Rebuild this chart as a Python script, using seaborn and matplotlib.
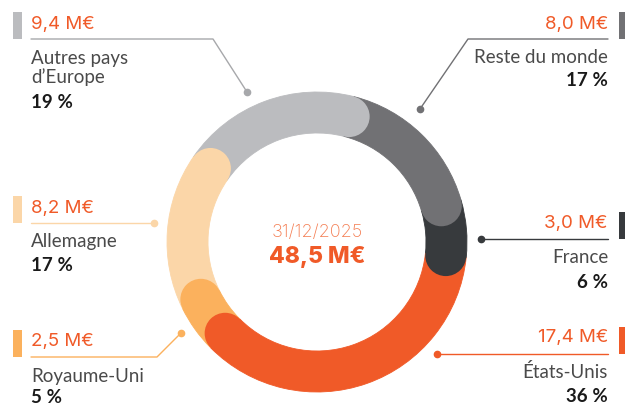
import numpy as np
import matplotlib.pyplot as plt
import seaborn as sns
from matplotlib.patches import Circle

# data
regions = ["Autres pays\nd\u2019Europe", "Reste du monde", "France", "\u00c9tats-Unis", "Royaume-Uni", "Allemagne"]
amounts = [9.4, 8.0, 3.0, 17.4, 2.5, 8.2]
amount_labels = ["9,4 M\u20ac", "8,0 M\u20ac", "3,0 M\u20ac", "17,4 M\u20ac", "2,5 M\u20ac", "8,2 M\u20ac"]
percents = ["19\u202f%", "17\u202f%", "6\u202f%", "36\u202f%", "5\u202f%", "17\u202f%"]
colors = ["#BBBCBF", "#717174", "#373A3D", "#F05A28", "#FBB15D", "#FBD6A8"]
total_date = "31/12/2025"
total_label = "48,5 M\u20ac"

orange = "#F05A28"

sns.set_style("white")
plt.rcParams['font.family'] = ['Lato', 'DejaVu Sans']

fig = plt.figure(figsize=(6.25, 4.05), dpi=100)
ax = fig.add_axes([0, 0, 1, 1])

cx, cy = 317, 242
r_out, width = 150, 41
r_mid = r_out - width / 2
start = -145.4  # data angle (y axis inverted), i.e. ~55 deg left of top

wedges, _ = ax.pie(amounts, colors=colors, startangle=start, counterclock=True,
                   center=(cx, cy), radius=r_out,
                   wedgeprops=dict(width=width, linewidth=0.6))
for w, c in zip(wedges, colors):
    w.set_edgecolor(c)

# rounded caps at the end of each segment
ends = start + np.cumsum(amounts) / sum(amounts) * 360
for ang, c in zip(ends, colors):
    a = np.deg2rad(ang)
    ax.add_patch(Circle((cx + r_mid * np.cos(a), cy + r_mid * np.sin(a)),
                        width / 2, color=c, zorder=3, lw=0))

ax.set_xlim(0, 625)
ax.set_ylim(405, 0)
ax.set_aspect('equal')
ax.axis('off')

# center text
ax.text(cx, 237, total_date, ha='center', va='baseline', color="#F47A4E",
        fontsize=13, fontweight='light', family=['Inter', 'DejaVu Sans'])
ax.text(cx, 263, total_label, ha='center', va='baseline', color=orange,
        fontsize=16.5, fontweight='heavy', family=['Inter', 'DejaVu Sans'])

# label layout: (side, value baseline, line y, leader path, name baseline, pct baseline)
layout = [
    ("left", 29, 39, [(31, 39), (213, 39), (247, 92)], 64, 108),
    ("right", 29, 39, [(608, 39), (468, 39), (420, 109)], 63, 86),
    ("right", 228, 239, [(608, 239), (481, 239)], 263, 288),
    ("right", 342, 354, [(608, 354), (437, 354)], 378, 402),
    ("left", 346, 357, [(31, 357), (157, 357), (181, 333)], 382, 403),
    ("left", 213, 223, [(31, 223), (154, 223)], 247, 271),
]
line_colors = ["#A7A8AB", "#717174", "#373A3D", "#F05A28", "#FBB15D", "#FBD6A8"]

for i, (side, vy, ly, path, ny, py) in enumerate(layout):
    x = 31 if side == "left" else 608
    ha = "left" if side == "left" else "right"
    bx = 13 if side == "left" else 619
    ax.add_patch(plt.Rectangle((bx, ly - 27), 9, 27, color=colors[i], lw=0))
    ax.text(x, vy, amount_labels[i], ha=ha, va='baseline', color=orange,
            fontsize=13.5, family=['Inter', 'DejaVu Sans'])
    xs, ys = zip(*path)
    ax.plot(xs, ys, color=line_colors[i], lw=1)
    ax.plot(xs[-1], ys[-1], 'o', color=line_colors[i], ms=4.5)
    for k, ln in enumerate(regions[i].split("\n")):
        ax.text(x, ny + k * 19, ln, ha=ha, va='baseline', color="#4A4A4A",
                fontsize=13.5)
    ax.text(x, py, percents[i], ha=ha, va='baseline', color="#1A1A1A",
            fontsize=13.5, fontweight='bold')

fig.savefig("out.png", dpi=100)
